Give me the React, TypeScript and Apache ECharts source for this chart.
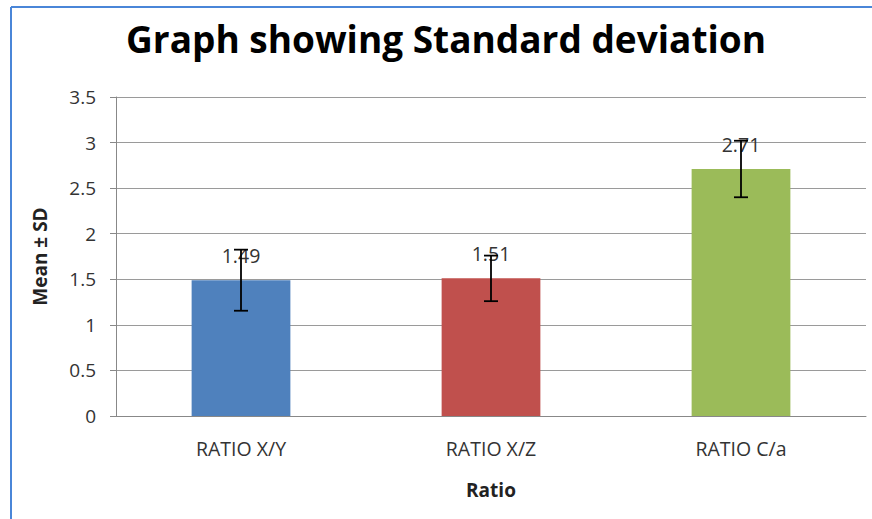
import React, { useEffect, useRef } from "react";
import * as echarts from "echarts";

const categories = ["RATIO X/Y", "RATIO X/Z", "RATIO C/a"];
const means = [1.49, 1.51, 2.71];
const sds = [0.335, 0.25, 0.31];
const colors = ["#4f81bd", "#c0504d", "#9bbb59"];
const yTicks = { min: 0, max: 3.5, interval: 0.5 };

const FONT = "'Open Sans', 'Noto Sans', sans-serif";

export default function App() {
  const ref = useRef<HTMLDivElement>(null);
  useEffect(() => {
    if (!ref.current) return;
    const chart = echarts.init(ref.current, null, { renderer: "svg" });
    const errData = means.map((m, i) => [i, m - sds[i], m + sds[i]]);
    chart.setOption({
      animation: false,
      backgroundColor: "#ffffff",
      title: {
        text: "Graph showing Standard deviation",
        left: 441,
        top: 15,
        textAlign: "center",
        textStyle: { fontFamily: FONT, fontSize: 37, fontWeight: "bold", color: "#000" },
      },
      graphic: [
        {
          type: "line",
          shape: { x1: 11, y1: 7, x2: 872, y2: 7 },
          style: { stroke: "#4a86d8", lineWidth: 2 },
        },
        {
          type: "line",
          shape: { x1: 11, y1: 7, x2: 11, y2: 519 },
          style: { stroke: "#4a86d8", lineWidth: 2 },
        },
      ],
      grid: { left: 116, right: 6, top: 97, bottom: 103, containLabel: false },
      xAxis: {
        type: "category",
        data: categories,
        name: "Ratio",
        nameLocation: "middle",
        nameGap: 64,
        nameTextStyle: { fontFamily: FONT, fontSize: 19, fontWeight: "bold", color: "#222" },
        axisLine: { lineStyle: { color: "#888" } },
        axisTick: { show: false },
        axisLabel: { fontFamily: FONT, fontSize: 19.5, color: "#333", margin: 22 },
      },
      yAxis: {
        type: "value",
        min: yTicks.min,
        max: yTicks.max,
        interval: yTicks.interval,
        name: "Mean ± SD",
        nameLocation: "middle",
        nameGap: 67,
        nameTextStyle: { fontFamily: FONT, fontSize: 19, fontWeight: "bold", color: "#222" },
        axisLine: { show: true, lineStyle: { color: "#888" } },
        axisTick: { show: true, length: 6, lineStyle: { color: "#888" } },
        axisLabel: {
          fontFamily: FONT,
          fontSize: 19,
          color: "#333",
          margin: 20,
          formatter: (v: number) => String(v),
        },
        splitLine: { lineStyle: { color: "#9a9a9a", width: 1 } },
      },
      series: [
        {
          type: "bar",
          data: means.map((v, i) => ({ value: v, itemStyle: { color: colors[i] } })),
          barWidth: "39.5%",
          label: {
            show: true,
            position: "top",
            distance: 15,
            fontFamily: FONT,
            fontSize: 19.5,
            color: "#333",
            formatter: (p: any) => p.value.toFixed(2),
          },
          z: 2,
        },
        {
          type: "custom",
          data: errData,
          z: 5,
          renderItem: (params: any, api: any) => {
            const x = api.value(0);
            const lo = api.coord([x, api.value(1)]);
            const hi = api.coord([x, api.value(2)]);
            const cap = 7;
            const style = { stroke: "#000", lineWidth: 1.8 };
            return {
              type: "group",
              children: [
                { type: "line", shape: { x1: lo[0], y1: lo[1], x2: hi[0], y2: hi[1] }, style },
                { type: "line", shape: { x1: lo[0] - cap, y1: lo[1], x2: lo[0] + cap, y2: lo[1] }, style },
                { type: "line", shape: { x1: hi[0] - cap, y1: hi[1], x2: hi[0] + cap, y2: hi[1] }, style },
              ],
            };
          },
        },
      ],
    });
    return () => chart.dispose();
  }, []);
  return (
    <div
      ref={ref}
      style={{ position: "fixed", left: 0, top: 0, width: 872, height: 519 }}
    />
  );
}
